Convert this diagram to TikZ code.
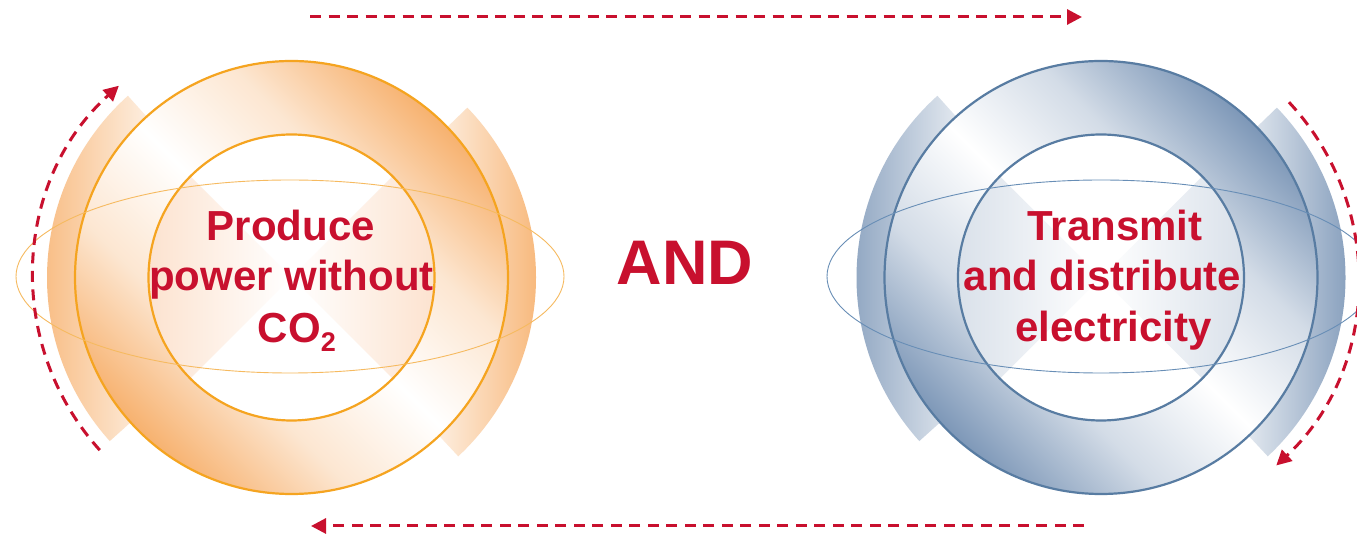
\documentclass[tikz,border=0pt]{standalone}
\usepackage{fontspec}
\setmainfont{Liberation Sans}
\usetikzlibrary{arrows.meta,calc}
\definecolor{crimson}{RGB}{200,16,46}
\definecolor{oline}{RGB}{245,164,32}
\definecolor{ofill}{RGB}{247,178,112}
\definecolor{opale}{RGB}{252,224,203}
\definecolor{oell}{RGB}{246,186,96}
\definecolor{bline}{RGB}{88,124,162}
\definecolor{bfill}{RGB}{126,152,184}
\definecolor{bpale}{RGB}{214,222,232}
\definecolor{bell}{RGB}{104,142,182}
\pgfdeclareverticalshading{oring}{100bp}{color(0bp)=(ofill); color(25bp)=(ofill); color(37.5bp)=(ofill!32!white); color(50bp)=(white); color(62.5bp)=(ofill!32!white); color(75bp)=(ofill); color(100bp)=(ofill)}
\pgfdeclareverticalshading{bring}{100bp}{color(0bp)=(bfill); color(25bp)=(bfill); color(37.5bp)=(bfill!34!white); color(50bp)=(white); color(62.5bp)=(bfill!34!white); color(75bp)=(bfill); color(100bp)=(bfill)}
\tikzset{
  txt/.style={text=crimson, font=\fontsize{42}{51}\selectfont\bfseries, anchor=base, inner sep=0pt},
  bigtxt/.style={text=crimson, font=\fontsize{63}{70}\selectfont\bfseries, anchor=base, inner sep=0pt},
  dasharrow/.style={draw=crimson, line width=3pt, dash pattern=on 11pt off 7.5pt, -{Triangle[length=15pt,width=15pt]}},
}
% #1 name, #2 centre x, #3 line colour, #4 fill colour, #5 pale colour, #6 ring shading, #7 ellipse colour, #8 ellipse centre x
\newcommand\RingUnit[8]{%
  \coordinate (#1) at (#2,257.5);
  \coordinate (#1e) at (#8,258.5);
  \shade[left color=#4, right color=#4!18!white]
    ($(#1)+(132:244.5)$) arc[start angle=132,end angle=222,radius=244.5]
    -- ($(#1)+(222:205)$) arc[start angle=222,end angle=132,radius=205] -- cycle;
  \shade[left color=#4!18!white, right color=#4]
    ($(#1)+(44:244.5)$) arc[start angle=44,end angle=-47,radius=244.5]
    -- ($(#1)+(-47:205)$) arc[start angle=-47,end angle=44,radius=205] -- cycle;
  \shade[shading=#6, shading angle=-45] (#1) circle[radius=216.5];
  \draw[#3, line width=2.2pt] (#1) circle[radius=216.5];
  \fill[white] (#1) circle[radius=143];
  \shade[left color=#5, right color=white]
    (#1) -- ($(#1)+(135:143)$) arc[start angle=135,end angle=225,radius=143] -- cycle;
  \shade[left color=white, right color=#5]
    (#1) -- ($(#1)+(-45:143)$) arc[start angle=-45,end angle=45,radius=143] -- cycle;
  \draw[#3, line width=2.2pt] (#1) circle[radius=143];
  \draw[#7, line width=0.9pt] (#1e) ellipse[x radius=274, y radius=96.5];
}
\begin{document}
\begin{tikzpicture}[x=1pt,y=1pt]
\useasboundingbox (0,0) rectangle (1357,535);
\fill[white] (0,0) rectangle (1357,535);
\RingUnit{lc}{291.5}{oline}{ofill}{opale}{oring}{oell}{290}
\RingUnit{rc}{1101}{bline}{bfill}{bpale}{bring}{bell}{1101}
% texts
\node[txt] (l1) at (291,294.3) {Produce};
\node[txt] (l2) at (291.5,244.3) {power without};
\node[txt] (l3) at (297,192.3) {CO{\fontsize{27}{27}\selectfont\raisebox{-9pt}{2}}};
\node[txt] (r1) at (1115,294.3) {Transmit};
\node[txt] (r2) at (1102.5,244.3) {and distribute};
\node[txt] (r3) at (1113.5,193.3) {electricity};
\node[bigtxt] (and) at (685,250) {AND};
% arrows
\coordinate (ta) at (310,518);
\coordinate (tb) at (1082,518);
\coordinate (ba) at (1084,9);
\coordinate (bb) at (311,9);
\draw[dasharrow] (ta) -- (tb);
\draw[dasharrow] (ba) -- (bb);
\coordinate (la) at ($(lc)+(222:258)$);
\draw[dasharrow] (la) arc[start angle=222,end angle=132,radius=258];
\coordinate (ra) at ($(rc)+(43:257)$);
\draw[dasharrow] (ra) arc[start angle=43,end angle=-47,radius=257];
\end{tikzpicture}
\end{document}
